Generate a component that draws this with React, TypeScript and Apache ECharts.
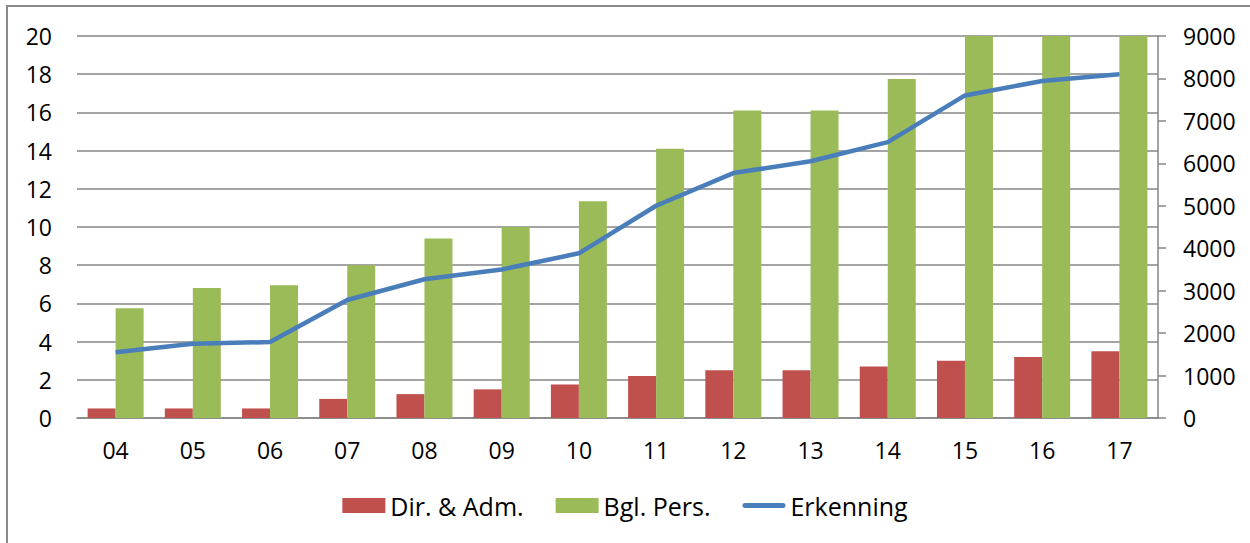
import React, { useEffect, useRef } from "react";
import * as echarts from "echarts";

const categories = ["04", "05", "06", "07", "08", "09", "10", "11", "12", "13", "14", "15", "16", "17"];
const dirAdm = [0.5, 0.5, 0.5, 1.0, 1.25, 1.5, 1.75, 2.2, 2.5, 2.5, 2.7, 3.0, 3.2, 3.5];
const bglPers = [5.75, 6.8, 6.95, 8.0, 9.4, 10.0, 11.35, 14.1, 16.1, 16.1, 17.75, 20, 20, 20];
const erkenning = [1550, 1750, 1790, 2780, 3270, 3500, 3880, 5000, 5770, 6050, 6500, 7600, 7940, 8100];

const FONT = "'Open Sans', sans-serif";
const GRID_COLOR = "#868686";

export default function App() {
  const ref = useRef<HTMLDivElement>(null);

  useEffect(() => {
    if (!ref.current) return;
    const chart = echarts.init(ref.current, undefined, { renderer: "svg" });
    chart.setOption({
      animation: false,
      backgroundColor: "#ffffff",
      textStyle: { fontFamily: FONT },
      graphic: [
        {
          type: "rect",
          shape: { x: 7, y: 6, width: 1260, height: 600 },
          style: { fill: "none", stroke: "#898989", lineWidth: 2 },
          silent: true,
        },
      ],
      grid: { left: 77, right: 92, top: 36, bottom: 125, containLabel: false },
      legend: {
        bottom: 20,
        left: "center",
        itemWidth: 43,
        itemHeight: 15,
        itemGap: 32,
        textStyle: { fontFamily: FONT, fontSize: 25, color: "#000" },
        data: [
          { name: "Dir. & Adm.", icon: "rect" },
          { name: "Bgl. Pers.", icon: "rect" },
          { name: "Erkenning", icon: "path://M2.5,0 L40.5,0 A2.5,2.5 0 0 1 40.5,5 L2.5,5 A2.5,2.5 0 0 1 2.5,0 Z" },
        ],
      },
      xAxis: {
        type: "category",
        data: categories,
        axisLine: { show: true, lineStyle: { color: GRID_COLOR, width: 1.5 } },
        axisTick: { show: false },
        axisLabel: { fontFamily: FONT, fontSize: 23, color: "#000", margin: 20 },
      },
      yAxis: [
        {
          type: "value",
          min: 0,
          max: 20,
          interval: 2,
          axisLine: { show: false },
          axisTick: { show: false },
          axisLabel: { fontFamily: FONT, fontSize: 23, color: "#000", margin: 25 },
          splitLine: { show: true, lineStyle: { color: GRID_COLOR, width: 1.5 } },
        },
        {
          type: "value",
          min: 0,
          max: 9000,
          interval: 1000,
          position: "right",
          axisLine: { show: true, lineStyle: { color: GRID_COLOR, width: 1.5 } },
          axisTick: { show: true, inside: false, length: 8, lineStyle: { color: GRID_COLOR, width: 1.5 } },
          axisLabel: {
            fontFamily: FONT,
            fontSize: 23,
            color: "#000",
            margin: 25,
            formatter: (v: number) => String(v),
          },
          splitLine: { show: false },
        },
      ],
      series: [
        {
          name: "Dir. & Adm.",
          type: "bar",
          data: dirAdm,
          barWidth: 28,
          barGap: "0%",
          itemStyle: { color: "#c0504d" },
        },
        {
          name: "Bgl. Pers.",
          type: "bar",
          data: bglPers,
          barWidth: 28,
          barGap: "0%",
          itemStyle: { color: "#9bbb59" },
        },
        {
          name: "Erkenning",
          type: "line",
          yAxisIndex: 1,
          data: erkenning,
          symbol: "none",
          lineStyle: { color: "#4a7ebb", width: 4.5 },
          itemStyle: { color: "#4a7ebb" },
        },
      ],
    });
    return () => chart.dispose();
  }, []);

  return (
    <div
      ref={ref}
      style={{ position: "absolute", left: 0, top: 0, width: 1250, height: 543 }}
    />
  );
}
